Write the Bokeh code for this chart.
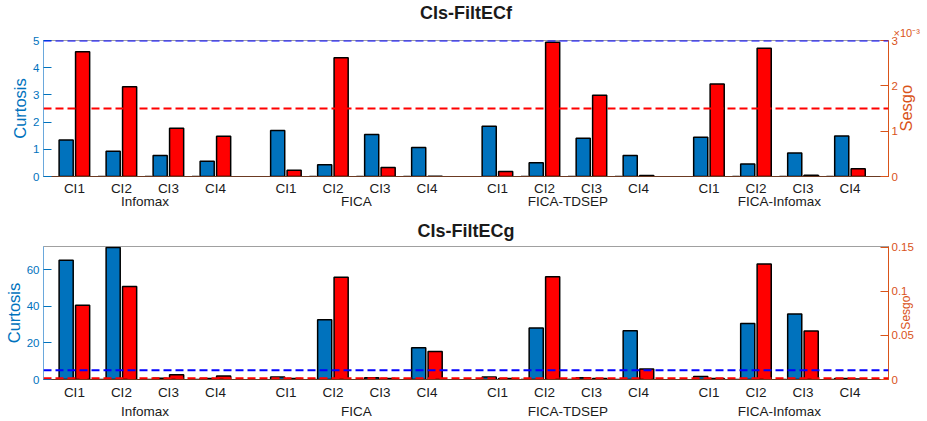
import numpy as np
from bokeh.plotting import figure
from bokeh.models import (Range1d, LinearAxis, FixedTicker, CustomJSTickFormatter,
                          Span, Title)
from bokeh.layouts import column
from bokeh.embed import file_html
from bokeh.resources import INLINE

# ---------------- data ----------------
ci_labels = ["CI1", "CI2", "CI3", "CI4"]
groups = ["Infomax", "FICA", "FICA-TDSEP", "FICA-Infomax"]

curt_f = [1.34, 0.93, 0.77, 0.56, 1.69, 0.43, 1.54, 1.07,
          1.85, 0.51, 1.41, 0.77, 1.44, 0.46, 0.86, 1.49]
sesgo_f = [2.75e-3, 1.98e-3, 1.065e-3, 0.89e-3, 0.14e-3, 2.62e-3, 0.20e-3, 0.005e-3,
           0.11e-3, 2.96e-3, 1.79e-3, 0.02e-3, 2.04e-3, 2.83e-3, 0.03e-3, 0.17e-3]
curt_g = [65.2, 72.1, 0.7, 0.5, 1.4, 32.7, 0.9, 17.4,
          1.3, 28.2, 0.9, 26.6, 1.7, 30.6, 35.8, 0.5]
sesgo_g = [0.0843, 0.1055, 0.0054, 0.0039, 0.001, 0.1159, 0.001, 0.0319,
           0.001, 0.1166, 0.001, 0.0118, 0.001, 0.131, 0.0549, 0.0005]
curt_thr = 5
sesgo_thr = 1.5e-3

BLUE = "#0072BD"
ORANGE = "#D95319"
FONT = "Liberation Sans"

# category positions (4 per group, gap between groups)
xs = np.array([g * 4.5 + j for g in range(4) for j in range(4)], dtype=float)
group_centers = [g * 4.5 + 1.5 for g in range(4)]
ci_all = ci_labels * 4
X0, X1 = -0.657, 17.32


def make(title, curt, sesgo, lmax, rmax, lticks, rticks, rfmt, height,
         top_border, bottom_border, exp_label, ci_standoff, group_standoff,
         title_standoff, sesgo_size, sesgo_standoff, sesgo_pos):
    p = figure(width=927, height=height, output_backend="svg", toolbar_location=None,
               x_range=Range1d(X0, X1), y_range=Range1d(0, lmax),
               min_border_left=43, min_border_right=36,
               min_border_top=top_border, min_border_bottom=bottom_border,
               background_fill_color="white", border_fill_color="white")
    p.extra_y_ranges = {"r": Range1d(0, rmax)}
    p.grid.visible = False
    p.outline_line_color = "#a0a0a0"
    p.outline_line_width = 1

    if exp_label:
        et = Title(text="\u00d710\u207b\u00b3", align="left", text_font=FONT,
                   text_font_size="11px", text_color=ORANGE, text_font_style="normal",
                   offset=850, standoff=4)
        p.add_layout(et, "above")
    t = Title(text=title, align="center", text_font=FONT, text_font_size="18px",
              text_font_style="bold", text_color="#1a1a1a", standoff=title_standoff)
    p.add_layout(t, "above")

    # bars
    p.vbar(x=xs - 0.175, top=curt, width=0.3, bottom=0,
           fill_color=BLUE, line_color="black", line_width=1.5)
    p.vbar(x=xs + 0.175, top=sesgo, width=0.3, bottom=0, y_range_name="r",
           fill_color="#FF0000", line_color="black", line_width=1.5)
    # zero-height bar edges at baseline
    mask = np.array([j != 0 for g in range(4) for j in range(4)])
    p.segment(x0=xs[mask] - 0.5, x1=xs[mask] - 0.35, y0=0, y1=0,
              line_color="black", line_width=1.5)

    # thresholds
    p.add_layout(Span(location=curt_thr, dimension="width", line_color="#0000FF",
                      line_width=2, line_dash="8 4"))
    p.add_layout(Span(location=sesgo_thr, dimension="width", line_color="#FF0000",
                      line_width=2, line_dash="8 4", y_range_name="r"))

    # left axis
    ya = p.yaxis[0]
    ya.ticker = FixedTicker(ticks=lticks)
    ya.major_tick_in = 8
    ya.major_tick_out = 0
    ya.minor_tick_line_color = None
    ya.major_tick_line_color = BLUE
    ya.axis_line_color = "#6aa8dc"
    ya.major_label_text_color = BLUE
    ya.major_label_text_font = FONT
    ya.major_label_text_font_size = "11.5px"
    ya.major_label_standoff = 4
    ya.axis_label = "Curtosis"
    ya.axis_label_text_font = FONT
    ya.axis_label_text_font_size = "16.5px"
    ya.axis_label_text_font_style = "normal"
    ya.axis_label_text_color = BLUE
    ya.axis_label_standoff = 1

    # right axis (ticks)
    ra = LinearAxis(y_range_name="r", ticker=FixedTicker(ticks=rticks),
                    formatter=CustomJSTickFormatter(code=rfmt))
    ra.major_tick_in = 8
    ra.major_tick_out = 0
    ra.minor_tick_line_color = None
    ra.major_tick_line_color = ORANGE
    ra.axis_line_color = ORANGE
    ra.major_label_text_color = ORANGE
    ra.major_label_text_font = FONT
    ra.major_label_text_font_size = "11.5px"
    ra.major_label_standoff = 3
    p.add_layout(ra, "right")

    # right axis title (reads bottom-to-top, as a rotated label starting at its tick)
    sa = LinearAxis(y_range_name="r", ticker=FixedTicker(ticks=[rmax * sesgo_pos]),
                    formatter=CustomJSTickFormatter(code="return 'Sesgo';"))
    sa.axis_line_color = None
    sa.major_tick_line_color = None
    sa.minor_tick_line_color = None
    sa.major_tick_in = 0
    sa.major_tick_out = 0
    sa.major_label_orientation = np.pi / 2
    sa.major_label_text_font = FONT
    sa.major_label_text_font_size = sesgo_size
    sa.major_label_text_color = ORANGE
    sa.major_label_standoff = sesgo_standoff
    p.add_layout(sa, "right")

    # x axis: CI labels
    xa = p.xaxis[0]
    xa.ticker = FixedTicker(ticks=list(xs))
    xa.formatter = CustomJSTickFormatter(args=dict(labs=ci_all), code="return labs[index];")
    xa.major_tick_in = 0
    xa.major_tick_out = 0
    xa.minor_tick_line_color = None
    xa.axis_line_color = "#6b3a22"
    xa.axis_line_width = 1
    xa.major_label_text_font = FONT
    xa.major_label_text_font_size = "13.5px"
    xa.major_label_text_color = "#1a1a1a"
    xa.major_label_standoff = ci_standoff

    ga = LinearAxis(ticker=FixedTicker(ticks=group_centers),
                    formatter=CustomJSTickFormatter(args=dict(labs=groups),
                                                    code="return labs[index];"))
    ga.axis_line_color = None
    ga.major_tick_line_color = None
    ga.minor_tick_line_color = None
    ga.major_tick_in = 0
    ga.major_tick_out = 0
    ga.major_label_text_font = FONT
    ga.major_label_text_font_size = "13.5px"
    ga.major_label_text_color = "#1a1a1a"
    ga.major_label_standoff = group_standoff
    p.add_layout(ga, "below")
    return p


p1 = make("CIs-FiltECf", curt_f, sesgo_f, 5.0, 3.0e-3, [0, 1, 2, 3, 4, 5],
          [0, 1e-3, 2e-3, 3e-3], "return (tick*1000).toFixed(0);",
          213, 38, 37, True, 4, -5, 0, "16.5px", 6, 0.33)
p2 = make("CIs-FiltECg", curt_g, sesgo_g, 72.7, 0.1509, [0, 20, 40, 60],
          [0, 0.05, 0.1, 0.15], "return String(parseFloat(tick.toFixed(4)));",
          208, 32, 37, False, 5, 1, 11, "12px", -11, 0.375)

layout = column(p1, p2, spacing=0)
open("out.html", "w").write(file_html(layout, INLINE))
